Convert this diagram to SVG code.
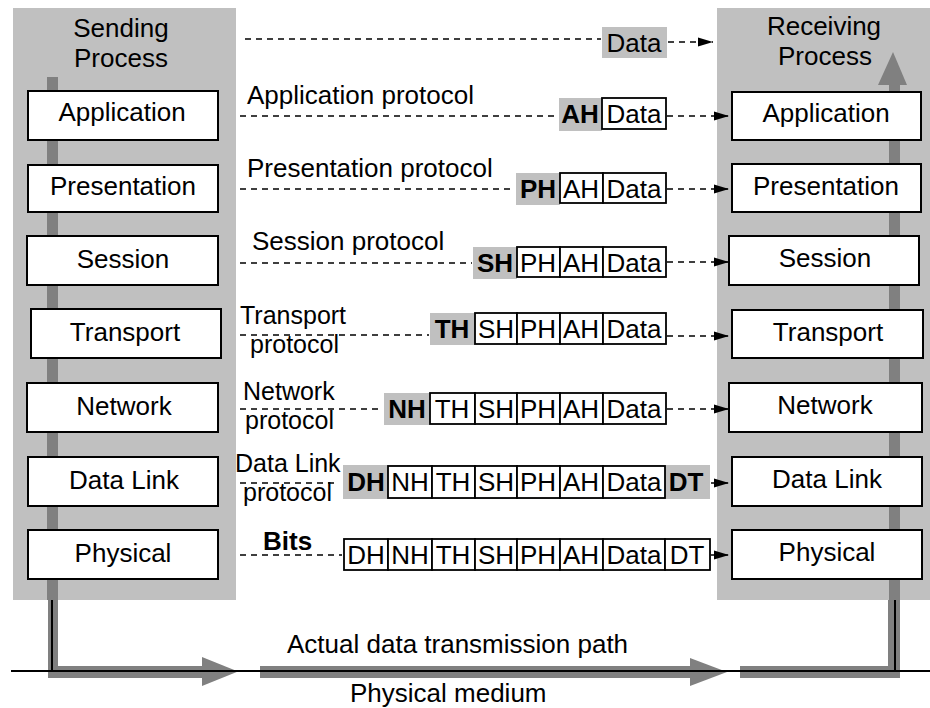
<svg xmlns="http://www.w3.org/2000/svg" width="930" height="708" viewBox="0 0 930 708">
<style>
text{font-family:"Liberation Sans",Arial,sans-serif;font-size:26px;fill:#000}
.c{text-anchor:middle}
.b{font-weight:bold}
.s{font-size:25px}
.panel{fill:#c0c0c0}
.bar{fill:#808080}
.layer{fill:#fff;stroke:#000;stroke-width:2}
.pdu{fill:#fff;stroke:#000;stroke-width:1.8}
.hdr{fill:#c0c0c0}
.dash{stroke:#000;stroke-width:1.6;stroke-dasharray:6 5;fill:none}
.ah{fill:#000}
.blk{stroke:#000;stroke-width:2;fill:none}
</style>
<defs>
<marker id="arr" markerUnits="userSpaceOnUse" markerWidth="18" markerHeight="12" refX="16" refY="6" orient="auto">
<path d="M1,1.5 L16,6 L1,10.5 Z" class="ah"/>
</marker>
</defs>
<rect width="930" height="708" fill="#fff"/>

<g id="sending-process">
<rect class="panel" x="13" y="8" width="223" height="592"/>
<rect class="bar" x="47" y="77" width="11" height="523"/>
<text class="c" x="121" y="37">Sending</text>
<text class="c" x="121" y="67">Process</text>
</g>
<g id="receiving-process">
<rect class="panel" x="717" y="8" width="213" height="592"/>
<rect class="bar" x="889" y="84" width="11" height="516"/>
<polygon class="bar" points="878,85 893,52 907,85"/>
<text class="c" x="824" y="35">Receiving</text>
<text class="c" x="825" y="65">Process</text>
</g>

<g id="send-application"><rect class="layer" x="28" y="91" width="190" height="49"/><text class="c" x="122" y="121">Application</text></g>
<g id="send-presentation"><rect class="layer" x="28" y="165" width="190" height="47"/><text class="c" x="123" y="195">Presentation</text></g>
<g id="send-session"><rect class="layer" x="27" y="236" width="191" height="49"/><text class="c" x="123" y="268">Session</text></g>
<g id="send-transport"><rect class="layer" x="31" y="309" width="190" height="49"/><text class="c" x="125" y="341">Transport</text></g>
<g id="send-network"><rect class="layer" x="27" y="383" width="191" height="49"/><text class="c" x="124" y="415">Network</text></g>
<g id="send-datalink"><rect class="layer" x="28" y="457" width="190" height="49"/><text class="c" x="124" y="489">Data Link</text></g>
<g id="send-physical"><rect class="layer" x="28" y="530" width="190" height="49"/><text class="c" x="123" y="562">Physical</text></g>

<g id="recv-application"><rect class="layer" x="732" y="92" width="189" height="48"/><text class="c" x="826" y="122">Application</text></g>
<g id="recv-presentation"><rect class="layer" x="732" y="164" width="189" height="48"/><text class="c" x="826" y="195">Presentation</text></g>
<g id="recv-session"><rect class="layer" x="729" y="236" width="190" height="49"/><text class="c" x="825" y="267">Session</text></g>
<g id="recv-transport"><rect class="layer" x="732" y="310" width="191" height="48"/><text class="c" x="828" y="341">Transport</text></g>
<g id="recv-network"><rect class="layer" x="729" y="383" width="193" height="49"/><text class="c" x="825" y="414">Network</text></g>
<g id="recv-datalink"><rect class="layer" x="732" y="457" width="190" height="49"/><text class="c" x="827" y="488">Data Link</text></g>
<g id="recv-physical"><rect class="layer" x="732" y="530" width="190" height="49"/><text class="c" x="827" y="561">Physical</text></g>

<g id="protocol-labels">
<text x="247" y="104">Application protocol</text>
<text x="247" y="177">Presentation protocol</text>
<text x="252" y="250">Session protocol</text>
<text class="s" x="240" y="324">Transport</text>
<text class="s" x="250" y="353">protocol</text>
<text class="s" x="243" y="400">Network</text>
<text class="s" x="245" y="429">protocol</text>
<text class="s" x="235" y="472">Data Link</text>
<text class="s" x="243" y="501">protocol</text>
<text class="b" x="263" y="550">Bits</text>
</g>

<g id="pdu-data">
<rect class="hdr" x="602" y="27" width="65" height="31"/>
<text class="c" x="634" y="52">Data</text>
</g>
<g id="pdu-application">
<rect class="hdr" x="559" y="98" width="43" height="33"/>
<text class="c b" x="580" y="123">AH</text>
<rect class="pdu" x="602" y="98" width="64" height="31"/>
<text class="c" x="634" y="123">Data</text>
</g>
<g id="pdu-presentation">
<rect class="hdr" x="516" y="173" width="44" height="32"/>
<text class="c b" x="538" y="198">PH</text>
<rect class="pdu" x="560" y="173" width="43" height="30"/>
<text class="c" x="581" y="198">AH</text>
<rect class="pdu" x="603" y="173" width="63" height="30"/>
<text class="c" x="634" y="198">Data</text>
</g>
<g id="pdu-session">
<rect class="hdr" x="473" y="247" width="44" height="32"/>
<text class="c b" x="495" y="272">SH</text>
<rect class="pdu" x="517" y="247" width="43" height="30"/>
<text class="c" x="538" y="272">PH</text>
<rect class="pdu" x="560" y="247" width="43" height="30"/>
<text class="c" x="581" y="272">AH</text>
<rect class="pdu" x="603" y="247" width="63" height="30"/>
<text class="c" x="634" y="272">Data</text>
</g>
<g id="pdu-transport">
<rect class="hdr" x="430" y="313" width="45" height="32"/>
<text class="c b" x="452" y="338">TH</text>
<rect class="pdu" x="475" y="313" width="42" height="31"/>
<text class="c" x="496" y="338">SH</text>
<rect class="pdu" x="517" y="313" width="43" height="31"/>
<text class="c" x="538" y="338">PH</text>
<rect class="pdu" x="560" y="313" width="43" height="31"/>
<text class="c" x="581" y="338">AH</text>
<rect class="pdu" x="603" y="313" width="63" height="31"/>
<text class="c" x="634" y="338">Data</text>
</g>
<g id="pdu-network">
<rect class="hdr" x="384" y="393" width="46" height="32"/>
<text class="c b" x="407" y="418">NH</text>
<rect class="pdu" x="430" y="393" width="45" height="31"/>
<text class="c" x="452" y="418">TH</text>
<rect class="pdu" x="475" y="393" width="42" height="31"/>
<text class="c" x="496" y="418">SH</text>
<rect class="pdu" x="517" y="393" width="43" height="31"/>
<text class="c" x="538" y="418">PH</text>
<rect class="pdu" x="560" y="393" width="43" height="31"/>
<text class="c" x="581" y="418">AH</text>
<rect class="pdu" x="603" y="393" width="63" height="31"/>
<text class="c" x="634" y="418">Data</text>
</g>
<g id="pdu-datalink">
<rect class="hdr" x="343" y="465" width="367" height="34"/>
<text class="c b" x="366" y="491">DH</text>
<rect class="pdu" x="388" y="466" width="44" height="32"/>
<text class="c" x="410" y="491">NH</text>
<rect class="pdu" x="432" y="466" width="43" height="32"/>
<text class="c" x="453" y="491">TH</text>
<rect class="pdu" x="475" y="466" width="42" height="32"/>
<text class="c" x="496" y="491">SH</text>
<rect class="pdu" x="517" y="466" width="43" height="32"/>
<text class="c" x="538" y="491">PH</text>
<rect class="pdu" x="560" y="466" width="43" height="32"/>
<text class="c" x="581" y="491">AH</text>
<rect class="pdu" x="603" y="466" width="62" height="32"/>
<text class="c" x="634" y="491">Data</text>
<text class="c b" x="686" y="491">DT</text>
</g>
<g id="pdu-physical">
<rect class="pdu" x="344" y="539" width="44" height="31"/>
<text class="c" x="366" y="564">DH</text>
<rect class="pdu" x="388" y="539" width="44" height="31"/>
<text class="c" x="410" y="564">NH</text>
<rect class="pdu" x="432" y="539" width="43" height="31"/>
<text class="c" x="453" y="564">TH</text>
<rect class="pdu" x="475" y="539" width="42" height="31"/>
<text class="c" x="496" y="564">SH</text>
<rect class="pdu" x="517" y="539" width="43" height="31"/>
<text class="c" x="538" y="564">PH</text>
<rect class="pdu" x="560" y="539" width="43" height="31"/>
<text class="c" x="581" y="564">AH</text>
<rect class="pdu" x="603" y="539" width="62" height="31"/>
<text class="c" x="634" y="564">Data</text>
<rect class="pdu" x="665" y="539" width="45" height="31"/>
<text class="c" x="687" y="564">DT</text>
</g>

<g id="connectors">
<line class="dash" x1="245" y1="39" x2="601" y2="39"/>
<line class="dash" x1="668" y1="42" x2="713" y2="42" marker-end="url(#arr)"/>
<line class="dash" x1="240" y1="116" x2="558" y2="116"/>
<line class="dash" x1="667" y1="116" x2="729" y2="116" marker-end="url(#arr)"/>
<line class="dash" x1="240" y1="189" x2="515" y2="189"/>
<line class="dash" x1="667" y1="189" x2="729" y2="189" marker-end="url(#arr)"/>
<line class="dash" x1="240" y1="263" x2="472" y2="263"/>
<line class="dash" x1="667" y1="262" x2="729" y2="262" marker-end="url(#arr)"/>
<line class="dash" x1="240" y1="335" x2="429" y2="335"/>
<line class="dash" x1="667" y1="336" x2="729" y2="336" marker-end="url(#arr)"/>
<line class="dash" x1="240" y1="409" x2="383" y2="409"/>
<line class="dash" x1="667" y1="409" x2="729" y2="409" marker-end="url(#arr)"/>
<line class="dash" x1="240" y1="483" x2="336" y2="483"/>
<line class="dash" x1="711" y1="483" x2="729" y2="483" marker-end="url(#arr)"/>
<line class="dash" x1="240" y1="555" x2="342" y2="555"/>
<line class="dash" x1="711" y1="555" x2="729" y2="555" marker-end="url(#arr)"/>
</g>

<g id="transmission-path">
<rect class="bar" x="48" y="600" width="10" height="78"/>
<rect class="bar" x="48" y="666" width="156" height="12"/>
<polygon class="bar" points="202,657 238,671.5 202,686"/>
<rect class="bar" x="260" y="666" width="432" height="12"/>
<polygon class="bar" points="690,658 727,672 690,686"/>
<rect class="bar" x="740" y="666" width="160" height="12"/>
<rect class="bar" x="888" y="600" width="12" height="78"/>
<line class="blk" x1="11" y1="671" x2="930" y2="671"/>
<polyline class="blk" points="52,600 52,671"/>
<polyline class="blk" points="895,600 895,671"/>
<text x="287" y="653">Actual data transmission path</text>
<text x="350" y="702">Physical medium</text>
</g>
</svg>
